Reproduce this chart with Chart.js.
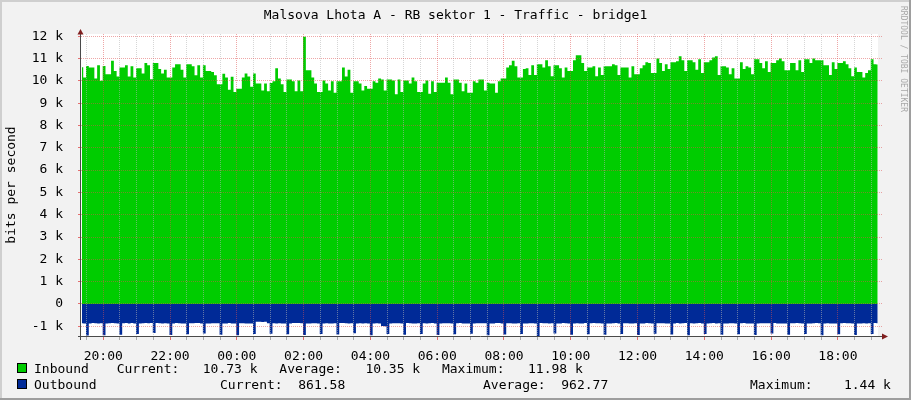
<!DOCTYPE html>
<html><head><meta charset="utf-8">
<script src="https://cdn.jsdelivr.net/npm/chart.js@4"></script>
<style>html,body{margin:0;padding:0;background:#f2f2f2;overflow:hidden}#wrap{width:911px;height:400px;position:relative}canvas{display:block}</style>
</head><body><div id="wrap"><canvas id="c" width="911" height="400"></canvas></div>
<script>
const chartTitle = 'Malsova Lhota A - RB sektor 1 - Traffic - bridge1';
const yAxisTitle = 'bits per second';
const watermark = 'RRDTOOL / TOBI OETIKER';
const sampleStartMinutes = -38.5;   // minutes relative to 20:00 of the first day
const sampleStepMinutes = 5;

const inbound = [
10610,10150,10670,10600,10600,10100,10700,10000,10670,10300,10300,10900,10440,10200,10600,10600,10700,10200,10650,10150,10560,10560,10330,10800,10700,10070,10800,10800,10530,10330,10500,10150,10150,10600,10740,10740,10500,10150,10740,10740,10650,10250,10700,10150,10700,10440,10440,10400,
10250,9850,9850,10320,10150,9600,10180,9500,9650,9650,10150,10330,10200,9740,10330,9880,9880,9570,9880,9530,9900,9980,10560,10100,9850,9500,10060,10060,9980,9530,10020,9530,11980,10470,10470,10150,9880,9500,9500,10020,9880,9570,9980,9470,9980,9980,10600,10200,
10500,9470,9980,9980,9880,9570,9770,9650,9650,9980,9920,10100,10060,9570,10060,10060,10020,9400,10060,9500,10020,10020,9880,10150,9980,9500,9500,9880,10020,9420,9980,9500,9920,9920,9920,10150,9920,9400,10060,10060,9920,9530,9880,9470,9470,9980,9920,10060,
10060,9570,9920,9880,9880,9470,9980,10100,10100,10600,10700,10900,10650,10150,10150,10530,10560,10260,10700,10260,10740,10740,10600,10920,10650,10210,10700,10700,10560,10150,10600,10440,10440,10920,11150,11150,10800,10440,10600,10600,10650,10210,10600,10260,10650,10650,10650,10740,
10700,10260,10600,10600,10600,10150,10650,10300,10300,10560,10700,10830,10800,10350,10350,11000,10800,10440,10740,10530,10830,10830,10880,11100,10920,10440,10920,10920,10830,10500,10970,10350,10830,10830,10920,11050,11100,10260,10650,10650,10600,10300,10560,10100,10100,10830,10530,10650,
10600,10300,10970,10970,10800,10560,10880,10400,10800,10800,10920,11000,10880,10480,10480,10800,10800,10480,10920,10400,10970,10970,10800,11000,10920,10920,10920,10700,10700,10260,10830,10530,10800,10800,10880,10740,10560,10210,10600,10400,10400,10150,10350,10480,10970,10740,10730
];

const outbound = [
-860,-870,-1410,-880,-850,-860, -870,-860,-1400,-870,-860,-850, -860,-880,-1380,-860,-850,-870, -850,-870,-1350,-880,-860,-850,
-860,-850,-1300,-850,-860,-870, -860,-880,-1390,-870,-850,-860, -870,-870,-1360,-860,-860,-850, -850,-880,-1320,-880,-870,-860,
-860,-860,-1380,-870,-870,-850, -870,-880,-1400,-860,-860,-870, -880,-870,-1350,-800,-800,-810, -800,-860,-1330,-860,-870,-860,
-870,-870,-1360,-880,-850,-850, -850,-860,-1390,-880,-870,-860, -860,-870,-1340,-870,-860,-880, -870,-860,-1370,-850,-850,-860,
-880,-860,-1310,-870,-860,-870, -860,-880,-1400,-870,-860,-880, -990,-1000,-1350,-870,-860,-860, -860,-870,-1380,-850,-860,-870,
-870,-860,-1340,-860,-880,-860, -850,-870,-1390,-870,-860,-860, -860,-880,-1360,-860,-850,-870, -870,-870,-1330,-880,-860,-860,
-860,-860,-1400,-870,-870,-850, -850,-880,-1370,-860,-860,-870, -870,-860,-1350,-870,-880,-860, -860,-870,-1440,-850,-860,-860,
-880,-860,-1320,-870,-870,-850, -860,-870,-1380,-880,-860,-870, -870,-850,-1360,-860,-850,-860, -860,-880,-1380,-870,-870,-860,
-850,-870,-1350,-860,-860,-870, -870,-860,-1390,-880,-870,-850, -860,-880,-1330,-860,-860,-860, -870,-870,-1370,-870,-850,-870,
-860,-850,-1400,-860,-870,-860, -850,-870,-1340,-880,-860,-850, -870,-860,-1380,-870,-870,-860, -860,-880,-1360,-860,-850,-870,
-870,-870,-1390,-870,-860,-860, -860,-860,-1320,-850,-870,-870, -880,-870,-1380,-860,-860,-850, -860,-880,-1350,-880,-870,-860,
-850,-860,-1400,-870,-860,-870, -870,-870,-1360,-860,-850,-860, -860,-880,-1390,-870,-870,-860, -870,-860,-1340,-850,-862
];

const xTickLabels = ['20:00','22:00','00:00','02:00','04:00','06:00','08:00','10:00','12:00','14:00','16:00','18:00'];
const xMinorStepMinutes = 30;
const xMajorStepMinutes = 120;
const yTickValues = [-1000,-500,0,500,1000,1500,2000,2500,3000,3500,4000,4500,5000,5500,6000,6500,7000,7500,8000,8500,9000,9500,10000,10500,11000,11500,12000];

const legendRows = [
  {name:'Inbound', color:'#00CC00', items:[['Current:   10.73 k',116.7],['Average:   10.35 k',279.3],['Maximum:   11.98 k',441.9]]},
  {name:'Outbound', color:'#002A97', items:[['Current:  861.58',220],['Average:  962.77',483],['Maximum:    1.44 k',750]]}
];

const xTickValues = [];
for (let t = -30; t <= 1380; t += xMinorStepMinutes) xTickValues.push(t);

const toPoints = arr => arr.map((v,i)=>({x: sampleStartMinutes + i*sampleStepMinutes, y: v}));

const MAJOR = 'rgba(222,79,79,0.5)';
const MINOR = 'rgba(180,180,180,0.55)';
const MAJOR_TICK = 'rgba(222,79,79,0.8)';
const MINOR_TICK = 'rgba(143,143,143,0.7)';
const FONT = '"DejaVu Sans Mono", monospace';

const isMajorX = v => v % xMajorStepMinutes === 0;
const isMajorY = v => v % 1000 === 0;

const framePlugin = {
  id:'frame',
  beforeDraw(chart){
    const c = chart.ctx, a = chart.chartArea;
    c.save();
    c.fillStyle = '#f2f2f2'; c.fillRect(0,0,chart.width,chart.height);
    c.fillStyle = '#ffffff'; c.fillRect(a.left, a.top, a.right-a.left, a.bottom-a.top);
    c.restore();
  },
  afterDatasetsDraw(chart){
    // dotted grid drawn on top of the areas, at positions given by the chart's scales
    const c = chart.ctx, a = chart.chartArea, xs = chart.scales.x, ys = chart.scales.y;
    c.save();
    xs.ticks.forEach(t => {
      const px = Math.floor(xs.getPixelForValue(t.value));
      c.fillStyle = isMajorX(t.value) ? MAJOR : MINOR;
      for (let y = Math.ceil(a.top); y < a.bottom; y += 2) c.fillRect(px, y, 1, 1);
      c.fillStyle = isMajorX(t.value) ? MAJOR_TICK : MINOR_TICK;
      c.fillRect(px, Math.round(a.bottom), 1, 3);
    });
    ys.ticks.forEach(t => {
      const py = Math.floor(ys.getPixelForValue(t.value));
      c.fillStyle = isMajorY(t.value) ? MAJOR : MINOR;
      for (let x = Math.round(a.left); x < a.right + 4; x += 2) c.fillRect(x, py, 1, 1);
      c.fillStyle = isMajorY(t.value) ? MAJOR_TICK : MINOR_TICK;
      c.fillRect(Math.round(a.left) - 3, py, 3, 1);
    });
    c.restore();
  },
  afterDraw(chart){
    const c = chart.ctx;
    c.save();
    // axes
    c.strokeStyle = '#4a4a4a'; c.lineWidth = 1;
    c.beginPath(); c.moveTo(80.5, 31); c.lineTo(80.5, 340); c.stroke();
    c.beginPath(); c.moveTo(78, 336.5); c.lineTo(883, 336.5); c.stroke();
    c.fillStyle = 'rgb(128,31,31)';
    c.beginPath(); c.moveTo(77.5, 34.5); c.lineTo(80.5, 29); c.lineTo(83.5, 34.5); c.closePath(); c.fill();
    c.beginPath(); c.moveTo(882, 333.5); c.lineTo(888, 336.5); c.lineTo(882, 339.5); c.closePath(); c.fill();
    // title
    c.fillStyle = '#000';
    c.font = '13px ' + FONT;
    c.textAlign = 'center'; c.textBaseline = 'alphabetic';
    c.fillText(chartTitle, 455.5, 19);
    // y axis title
    c.save(); c.translate(12, 185); c.rotate(-Math.PI/2);
    c.textBaseline = 'middle'; c.fillText(yAxisTitle, 0, 0); c.restore();
    // legend
    c.textAlign = 'left';
    legendRows.forEach((row, r) => {
      const base = r === 0 ? 373 : 388.5;
      const top = r === 0 ? 363 : 378.5;
      c.fillStyle = row.color; c.fillRect(17, Math.round(top), 10, 10);
      c.strokeStyle = '#000'; c.lineWidth = 1; c.strokeRect(17.5, Math.round(top)+0.5, 9, 9);
      c.fillStyle = '#000';
      c.fillText(row.name, 34, base);
      row.items.forEach(([txt, x]) => c.fillText(txt, x, base));
    });
    // watermark
    c.save(); c.translate(903, 6); c.rotate(Math.PI/2);
    c.font = '8px ' + FONT; c.fillStyle = '#a8a8a8'; c.textAlign = 'left'; c.textBaseline = 'middle';
    c.fillText(watermark, 0, 0); c.restore();
    // outer border
    c.fillStyle = '#cfcfcf'; c.fillRect(0,0,chart.width,2); c.fillRect(0,0,2,chart.height);
    c.fillStyle = '#9e9e9e'; c.fillRect(chart.width-2,0,2,chart.height); c.fillRect(0,chart.height-2,chart.width,2);
    c.restore();
  }
};

new Chart(document.getElementById('c'), {
  type:'line',
  data:{datasets:[
    {label:'Inbound', data: toPoints(inbound), fill:'origin', stepped:'middle', backgroundColor:'#00CC00', borderColor:'rgba(0,0,0,0)', borderWidth:0, pointRadius:0, order:2},
    {label:'Outbound', data: toPoints(outbound), fill:'origin', stepped:'middle', backgroundColor:'#002A97', borderColor:'rgba(0,0,0,0)', borderWidth:0, pointRadius:0, order:1}
  ]},
  options:{
    responsive:false, animation:false, devicePixelRatio:1,
    layout:{padding:{left:0, top:34, right:33, bottom:0}},
    plugins:{legend:{display:false}, title:{display:false}, tooltip:{enabled:false}},
    scales:{
      x:{type:'linear', min:-40, max:1392,
        afterBuildTicks: s => { s.ticks = xTickValues.map(v=>({value:v})); },
        afterFit: s => { s.height = 63; },
        ticks:{autoSkip:false, maxRotation:0, minRotation:0, padding:4, color:'#000', font:{family:FONT, size:13},
          callback: v => isMajorX(v) ? xTickLabels[v / xMajorStepMinutes] : ''},
        grid:{display:false},
        border:{display:false}
      },
      y:{type:'linear', min:-1480, max:12100,
        afterBuildTicks: s => { s.ticks = yTickValues.map(v=>({value:v})); },
        afterFit: s => { s.width = 81; },
        ticks:{padding:10, color:'#000', font:{family:FONT, size:13},
          callback: v => isMajorY(v) ? (v === 0 ? '0' : (v/1000) + ' k') : ''},
        grid:{display:false},
        border:{display:false}
      }
    }
  },
  plugins:[framePlugin]
});
</script></body></html>
